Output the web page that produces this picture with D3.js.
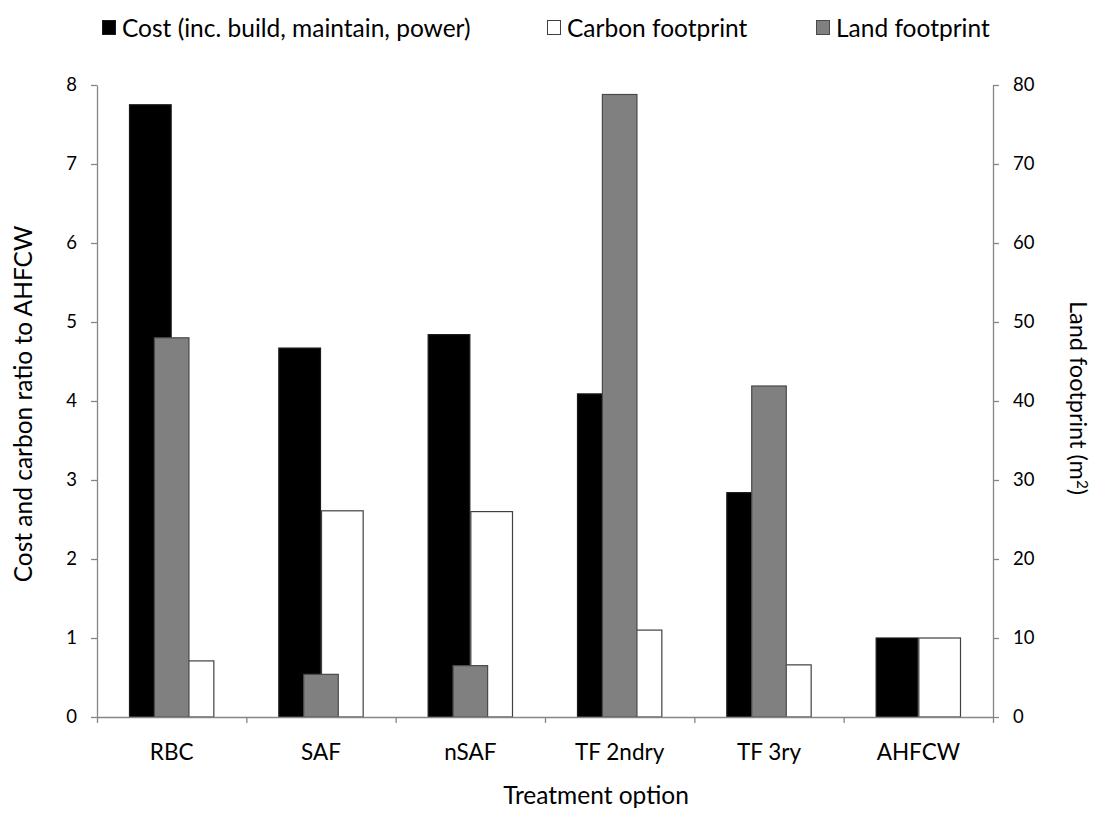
<!DOCTYPE html>
<html>
<head>
<meta charset="utf-8">
<script src="https://cdn.jsdelivr.net/npm/d3@7"></script>
<style>
  html, body { margin: 0; padding: 0; background: #fff; }
  svg { display: block; }
  text { font-family: Lato, "Open Sans", sans-serif; fill: #000; }
</style>
</head>
<body>
<svg id="chart" width="1097" height="814"></svg>
<script>
// Treatment options compared against AHFCW
const categories = ["RBC", "SAF", "nSAF", "TF 2ndry", "TF 3ry", "AHFCW"];
const costRatio = [7.75, 4.67, 4.84, 4.09, 2.84, 1.0];      // cost ratio to AHFCW (left axis)
const carbonRatio = [0.71, 2.61, 2.60, 1.10, 0.66, 1.0];    // carbon ratio to AHFCW (left axis)
const landArea = [48.0, 5.4, 6.5, 78.8, 41.9, null];         // land footprint, m² (right axis)
const leftTicks = [0, 1, 2, 3, 4, 5, 6, 7, 8];
const rightTicks = [0, 10, 20, 30, 40, 50, 60, 70, 80];
const legendLabels = ["Cost (inc. build, maintain, power)", "Carbon footprint", "Land footprint"];

const svg = d3.select("#chart");
const TICK_FONT = 18.5;
const CAT_FONT = 22.5;
const TITLE_FONT = 24.5;
const axisColor = "#868686";

const plot = { left: 97, right: 993, top: 85, bottom: 717 };

const x = d3.scaleBand().domain(categories).range([plot.left, plot.right]).paddingInner(0).paddingOuter(0);
const xPrimary = d3.scaleBand().domain(["cost", "carbon"]).range([0, x.bandwidth()]).paddingInner(0).paddingOuter(0.75);
const xSecondary = d3.scaleBand().domain(["land"]).range([0, x.bandwidth()]).paddingInner(0).paddingOuter(1.6);
const yLeft = d3.scaleLinear().domain([0, 8]).range([plot.bottom, plot.top]);
const yRight = d3.scaleLinear().domain([0, 80]).range([plot.bottom, plot.top]);

const primaryRows = categories.map((c, i) => ({ c, cost: costRatio[i], carbon: carbonRatio[i] }));

const styles = {
  cost:   { fill: "#000000", stroke: "#1a1a1a" },
  carbon: { fill: "#ffffff", stroke: "#404040" },
  land:   { fill: "#808080", stroke: "#4a4a4a" }
};

// primary-axis bars (cost, carbon)
const groups = svg.append("g").selectAll("g")
  .data(primaryRows).join("g")
  .attr("transform", d => `translate(${x(d.c)},0)`);

groups.selectAll("rect")
  .data(d => ["cost", "carbon"].map(k => ({ k, v: d[k] })))
  .join("rect")
  .attr("x", d => xPrimary(d.k) + 0.5)
  .attr("width", xPrimary.bandwidth() - 1)
  .attr("y", d => yLeft(d.v))
  .attr("height", d => yLeft(0) - yLeft(d.v))
  .attr("fill", d => styles[d.k].fill)
  .attr("stroke", d => styles[d.k].stroke)
  .attr("stroke-width", 1.2);

// secondary-axis bars (land), drawn over the primary series
const landRows = categories.map((c, i) => ({ c, v: landArea[i] })).filter(d => d.v != null);
svg.append("g").selectAll("rect")
  .data(landRows).join("rect")
  .attr("x", d => x(d.c) + xSecondary("land") + 0.5)
  .attr("width", xSecondary.bandwidth() - 1)
  .attr("y", d => yRight(d.v))
  .attr("height", d => yRight(0) - yRight(d.v))
  .attr("fill", styles.land.fill)
  .attr("stroke", styles.land.stroke)
  .attr("stroke-width", 1.2);

function styleAxis(size) {
  return g => {
    g.select(".domain").attr("stroke", axisColor).attr("stroke-width", 1.3);
    g.selectAll(".tick line").attr("stroke", axisColor).attr("stroke-width", 1.3);
    g.selectAll(".tick text").attr("font-size", size).attr("font-family", "Lato, sans-serif").attr("fill", "#000");
  };
}

// left axis
svg.append("g")
  .attr("transform", `translate(${plot.left},0)`)
  .call(d3.axisLeft(yLeft).tickValues(leftTicks).tickSize(6).tickSizeOuter(0).tickPadding(14).tickFormat(d3.format("d")))
  .call(styleAxis(TICK_FONT));

// right axis
svg.append("g")
  .attr("transform", `translate(${plot.right},0)`)
  .call(d3.axisRight(yRight).tickValues(rightTicks).tickSize(6).tickSizeOuter(0).tickPadding(14).tickFormat(d3.format("d")))
  .call(styleAxis(TICK_FONT));

// bottom axis: tick marks on category boundaries
const xBound = d3.scaleLinear().domain([0, categories.length]).range([plot.left, plot.right]);
svg.append("g")
  .attr("transform", `translate(0,${plot.bottom})`)
  .call(d3.axisBottom(xBound).tickValues(d3.range(categories.length + 1)).tickSize(6).tickSizeOuter(0).tickFormat(""))
  .call(styleAxis(TICK_FONT));

// category labels
svg.append("g")
  .attr("transform", `translate(0,${plot.bottom})`)
  .call(d3.axisBottom(x).tickSize(0).tickPadding(27))
  .call(g => g.select(".domain").remove())
  .call(styleAxis(CAT_FONT));

// axis titles
svg.append("text")
  .attr("x", 596).attr("y", 804)
  .attr("text-anchor", "middle")
  .attr("font-size", TITLE_FONT)
  .text("Treatment option");

svg.append("text")
  .attr("transform", "translate(32,404) rotate(-90)")
  .attr("text-anchor", "middle")
  .attr("font-size", TITLE_FONT)
  .text("Cost and carbon ratio to AHFCW");

const RIGHT_TITLE_FONT = 23.5;
const rt = svg.append("text")
  .attr("transform", "translate(1070,398) rotate(90)")
  .attr("text-anchor", "middle")
  .attr("font-size", RIGHT_TITLE_FONT);
rt.append("tspan").text("Land footprint (m");
rt.append("tspan").attr("font-size", RIGHT_TITLE_FONT * 0.65).attr("dy", -7).text("2");
rt.append("tspan").attr("dy", 7).text(")");

// legend
const legendItems = [
  { label: legendLabels[0], key: "cost", x: 102 },
  { label: legendLabels[1], key: "carbon", x: 547 },
  { label: legendLabels[2], key: "land", x: 816 }
];
const lg = svg.append("g").selectAll("g").data(legendItems).join("g")
  .attr("transform", d => `translate(${d.x},0)`);
lg.append("rect")
  .attr("x", 0.5).attr("y", 20.5).attr("width", 13).attr("height", 14)
  .attr("fill", d => styles[d.key].fill)
  .attr("stroke", d => styles[d.key].stroke)
  .attr("stroke-width", 1);
lg.append("text")
  .attr("x", 20).attr("y", 37)
  .attr("font-size", TITLE_FONT)
  .text(d => d.label);
</script>
</body>
</html>
